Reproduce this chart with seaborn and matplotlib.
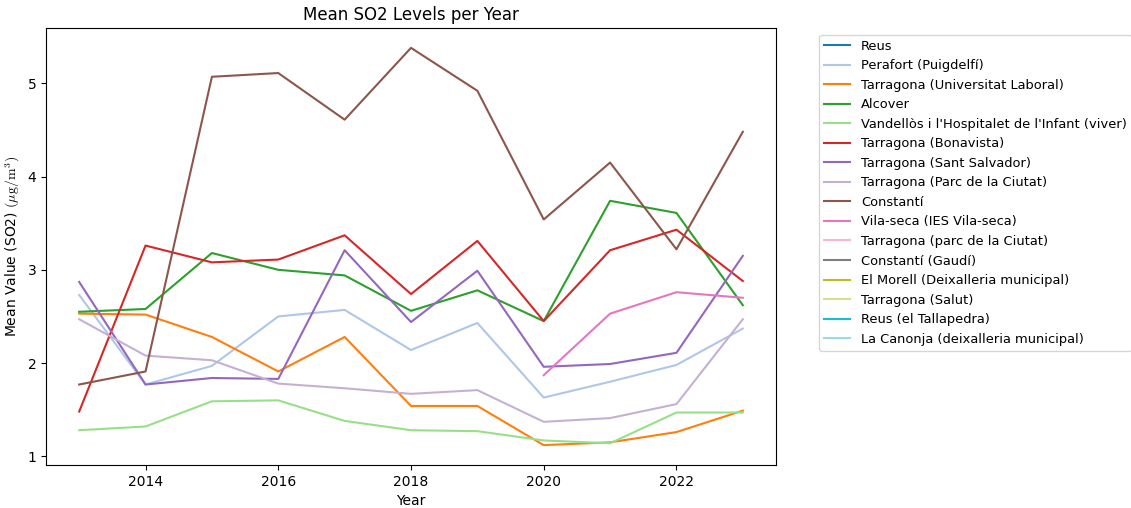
import numpy as np
import pandas as pd
import matplotlib
matplotlib.use("Agg")
import matplotlib.pyplot as plt
import seaborn as sns

plt.rcParams["mathtext.fontset"] = "cm"

years = list(range(2013, 2024))

stations = [
    "Reus",
    "Perafort (Puigdelfí)",
    "Tarragona (Universitat Laboral)",
    "Alcover",
    "Vandellòs i l'Hospitalet de l'Infant (viver)",
    "Tarragona (Bonavista)",
    "Tarragona (Sant Salvador)",
    "Tarragona (Parc de la Ciutat)",
    "Constantí",
    "Vila-seca (IES Vila-seca)",
    "Tarragona (parc de la Ciutat)",
    "Constantí (Gaudí)",
    "El Morell (Deixalleria municipal)",
    "Tarragona (Salut)",
    "Reus (el Tallapedra)",
    "La Canonja (deixalleria municipal)",
]

station_colors = [
    "#1f77b4", "#aec7e8", "#ff7f0e", "#2ca02c", "#98df8a", "#d62728",
    "#9467bd", "#c5b0d5", "#8c564b", "#e377c2", "#f7b6d2", "#7f7f7f",
    "#bcbd22", "#dbdb8d", "#17becf", "#9edae5",
]

nan = np.nan
perafort = [2.73, 1.77, 1.97, 2.50, 2.57, 2.14, 2.43, 1.63, 1.80, 1.98, 2.37]
universitat_laboral = [2.53, 2.52, 2.28, 1.91, 2.28, 1.54, 1.54, 1.12, 1.15, 1.26, 1.49]
alcover = [2.55, 2.58, 3.18, 3.00, 2.94, 2.56, 2.78, 2.45, 3.74, 3.61, 2.62]
vandellos = [1.28, 1.32, 1.59, 1.60, 1.38, 1.28, 1.27, 1.17, 1.14, 1.47, 1.47]
bonavista = [1.48, 3.26, 3.08, 3.11, 3.37, 2.74, 3.31, 2.45, 3.21, 3.43, 2.88]
sant_salvador = [2.87, 1.77, 1.84, 1.83, 3.21, 2.44, 2.99, 1.96, 1.99, 2.11, 3.15]
parc_ciutat = [2.47, 2.08, 2.03, 1.78, 1.73, 1.67, 1.71, 1.37, 1.41, 1.56, 2.47]
constanti = [1.77, 1.91, 5.07, 5.11, 4.61, 5.38, 4.92, 3.54, 4.15, 3.22, 4.48]
vila_seca = [nan, nan, nan, nan, nan, nan, nan, 1.87, 2.53, 2.76, 2.70]

series = {
    "Perafort (Puigdelfí)": perafort,
    "Tarragona (Universitat Laboral)": universitat_laboral,
    "Alcover": alcover,
    "Vandellòs i l'Hospitalet de l'Infant (viver)": vandellos,
    "Tarragona (Bonavista)": bonavista,
    "Tarragona (Sant Salvador)": sant_salvador,
    "Tarragona (Parc de la Ciutat)": parc_ciutat,
    "Constantí": constanti,
    "Vila-seca (IES Vila-seca)": vila_seca,
}

rows = []
for name, vals in series.items():
    for y, v in zip(years, vals):
        if not np.isnan(v):
            rows.append({"Year": y, "Station": name, "Value": v})
df = pd.DataFrame(rows)

fig = plt.figure(figsize=(11.31, 5.08), dpi=100)
ax = fig.add_axes([46 / 1131, 1 - 465 / 508, 730 / 1131, 437 / 508])

sns.lineplot(
    data=df, x="Year", y="Value", hue="Station",
    hue_order=stations, palette=dict(zip(stations, station_colors)),
    ax=ax, linewidth=1.5,
)

ax.set_title("Mean SO2 Levels per Year")
ax.set_xlabel("Year")
ax.set_ylabel(r"Mean Value (SO2) $\mathrm{(\mu g/m^3)}$")
ax.legend(bbox_to_anchor=(1.05, 1), loc="upper left", fontsize=9.4)

fig.savefig("out.png", dpi=100)
